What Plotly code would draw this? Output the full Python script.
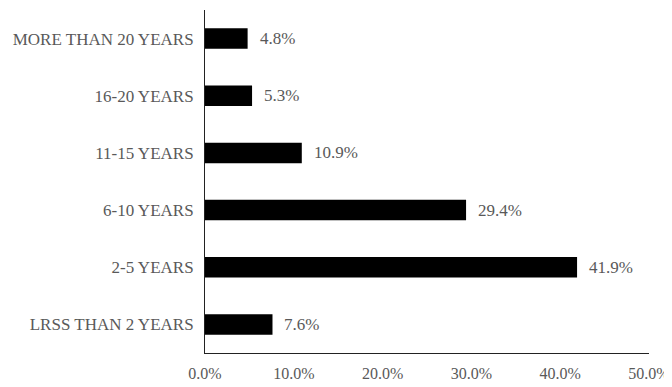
import plotly.graph_objects as go

categories = ["LRSS THAN 2 YEARS", "2-5 YEARS", "6-10 YEARS", "11-15 YEARS", "16-20 YEARS", "MORE THAN 20 YEARS"]
values = [7.6, 41.9, 29.4, 10.9, 5.3, 4.8]
x_ticks = [0, 10, 20, 30, 40, 50]
x_tick_labels = ["0.0%", "10.0%", "20.0%", "30.0%", "40.0%", "50.0%"]

font_family = "Liberation Serif"
gray = "#595959"
fsize = 17

fig = go.Figure(go.Bar(
    x=values,
    y=categories,
    orientation="h",
    marker=dict(color="#000000", line=dict(width=0)),
    width=0.36,
    hoverinfo="x+y",
))

for c, v in zip(categories, values):
    fig.add_annotation(
        x=v, y=c, text=f"{v:.1f}%", showarrow=False,
        xanchor="left", yanchor="middle", xshift=10,
        font=dict(family=font_family, size=fsize, color=gray),
    )

# page body has an 8px default margin, so the figure is sized to compensate
fig.update_layout(
    width=664, height=379,
    margin=dict(l=197, r=23, t=2, b=34, autoexpand=False),
    paper_bgcolor="white", plot_bgcolor="white",
    showlegend=False,
    font=dict(family=font_family, size=fsize, color=gray),
    xaxis=dict(
        range=[0, 50], tickvals=x_ticks, ticktext=x_tick_labels, automargin=False,
        ticklabeloverflow="allow", ticklabelstandoff=6,
        showgrid=False, zeroline=False, showline=True, linecolor="#222222", linewidth=1,
        ticks="", ticklen=0, tickfont=dict(family=font_family, size=16, color=gray),
    ),
    yaxis=dict(
        range=[-0.5, 5.5], automargin=False,
        showgrid=False, zeroline=False, showline=True, linecolor="#222222", linewidth=1,
        ticks="", ticklabelstandoff=7, tickfont=dict(family=font_family, size=fsize, color=gray),
    ),
)

fig.write_html("out.html")
